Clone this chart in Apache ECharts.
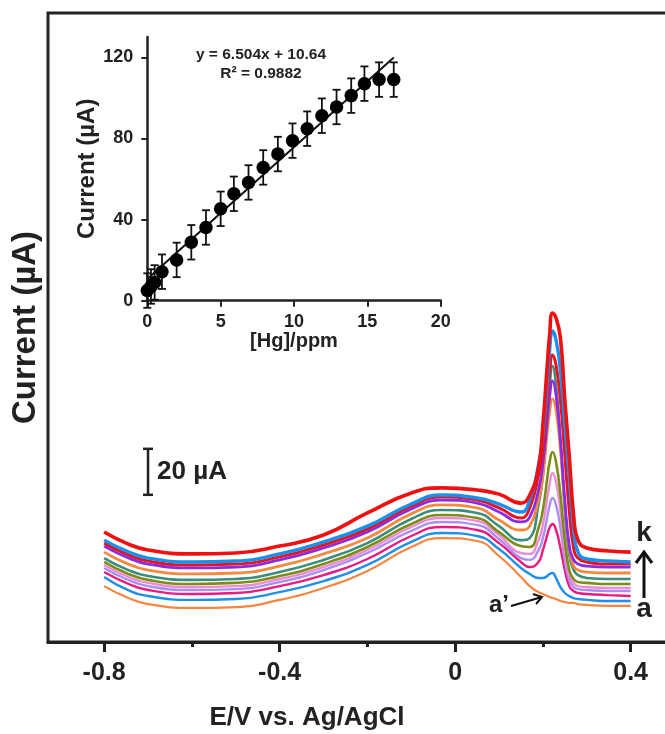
<!DOCTYPE html>
<html><head><meta charset="utf-8">
<script src="https://cdn.jsdelivr.net/npm/echarts@6/dist/echarts.min.js"></script>
<style>html,body{margin:0;padding:0;background:#fff}#c{width:665px;height:734px}</style>
</head><body><div id="c"></div>
<script>
// ---------- main voltammograms (E in V, I in µA) ----------
const potential = [-0.8,-0.75,-0.7,-0.6,-0.5,-0.4,-0.3,-0.2,-0.1,-0.03,0.05,0.1,0.15,0.17,0.19,0.2,0.21,0.215,0.222,0.23,0.24,0.25,0.26,0.27,0.28,0.3,0.35,0.4];
const curveNames = ["blank","a","b","c","d","e","f","g","h","i","j","k"];
const curveBlank = [24.3,19.6,16.5,14.8,15.2,18.3,23.5,30.9,41.3,45.2,43.9,37.4,28.3,24.3,21.7,20.9,20.0,19.6,19.1,18.7,17.8,17.4,17.0,17.0,16.5,16.1,15.7,15.7];
const curveA = [28.3,23.0,20.0,18.3,18.7,21.7,26.5,33.5,43.5,47.4,46.1,40.4,32.2,29.6,27.8,27.8,28.7,29.6,30.0,27.8,23.9,21.3,20.0,19.1,18.7,18.3,17.8,17.8];
const curveB = [30.4,25.7,22.6,20.9,21.3,24.3,29.1,36.1,46.1,50.0,48.7,43.0,34.8,32.6,34.8,40.0,46.5,49.6,51.3,48.7,40.9,31.3,24.3,22.2,21.3,20.9,20.4,20.0];
const curveC = [32.2,27.4,24.3,22.6,23.0,26.1,31.3,38.7,48.3,52.2,50.9,44.8,36.5,35.7,40.0,45.2,54.3,59.1,62.6,59.6,49.6,35.7,27.0,23.9,23.0,22.6,22.2,22.2];
const curveD = [33.5,28.7,25.7,23.9,24.3,27.4,32.6,40.0,50.0,53.9,52.6,46.5,38.7,38.3,44.3,50.9,62.6,68.3,73.5,69.6,57.4,40.0,29.1,25.7,24.3,23.9,23.5,23.5];
const curveE = [34.8,30.0,27.0,25.2,25.7,28.7,33.9,41.3,51.3,55.2,53.9,47.8,41.7,41.3,49.6,57.4,71.3,77.8,82.6,78.3,63.9,44.3,31.3,27.4,26.1,25.7,25.2,25.2];
const curveF = [36.5,31.7,28.7,27.0,27.4,30.4,35.7,43.0,53.5,57.4,56.1,50.4,44.3,45.2,59.6,72.6,98.7,110.4,120.0,111.7,87.8,57.4,37.8,31.3,29.1,27.8,27.4,27.4];
const curveG = [39.1,34.3,31.3,29.6,30.0,33.0,38.3,45.2,55.7,59.6,58.3,53.0,48.7,50.4,61.7,72.2,91.3,99.6,105.7,100.9,83.5,59.6,40.0,33.0,31.3,30.4,30.0,30.0];
const curveH = [41.7,37.0,33.9,32.2,32.6,35.7,40.9,47.8,57.8,61.7,60.4,56.5,52.2,54.3,66.1,77.8,96.5,106.1,113.5,107.4,87.8,61.7,42.2,35.7,33.9,33.0,32.6,32.6];
const curveI = [43.0,38.3,35.2,33.5,33.9,37.0,42.2,49.1,59.1,63.0,61.7,58.3,53.9,58.3,72.6,84.3,106.1,116.5,124.8,120.4,105.2,81.3,57.4,40.9,36.5,34.8,33.9,33.9];
const curveJ = [44.3,39.6,36.5,34.8,35.2,38.3,43.5,50.4,60.0,63.9,62.6,60.0,56.5,61.7,77.0,90.0,113.0,126.1,135.2,131.3,118.3,94.3,72.6,49.6,39.1,36.1,35.2,34.8];
const curveK = [47.8,43.0,40.0,38.3,38.7,41.7,46.5,56.1,64.8,67.0,66.1,64.3,60.4,63.9,75.7,94.3,120.4,132.6,143.0,140.9,132.2,105.2,81.3,55.2,44.3,40.9,39.6,39.1];
const curves = [curveBlank,curveA,curveB,curveC,curveD,curveE,curveF,curveG,curveH,curveI,curveJ,curveK];
const mainTickLabels = [-0.8,-0.4,0,0.4];
const mainMinorTicks = [-0.6,-0.2,0.2];
const scaleBar = [[-0.7,64],[-0.7,84]]; // 20 µA

// ---------- inset calibration ----------
const hgConc = [0,0.25,0.5,1,2,3,4,5,5.9,6.9,7.9,8.9,9.9,10.9,11.9,12.9,13.9,14.8,15.8,16.8];
const peakCurrent = [5,7,9,14.3,20.1,28.8,36.1,45.3,52.7,58.3,65.7,72.3,78.9,84.8,91.2,95.5,101.1,107,109,109];
const peakError = [8.5,8.5,8.5,8.5,8.5,8.5,8.5,8.5,8.5,8.5,8.5,8.5,8.5,8.5,8.5,8.5,8.5,8.5,8.5,8.5];
const fitLine = [[0,10.64],[16.8,119.9]];
const insetYTicks = [0,40,80,120];
const insetXTicks = [0,5,10,15,20];

// ---------- styles ----------
const colors = ['#f7853e','#1f8fe8','#ea1a7f','#a98ff0','#f08ad6','#7c8c14','#3a8c7e','#f5893c','#8a2be8','#e8141c','#1a90ee','#f01010'];
const widths = [2.2,2.4,2.4,2.4,2.4,2.6,2.6,2.8,2.8,3,3.4,3.6];
const FONT = 'Liberation Sans, Arial, sans-serif';
const INK = '#222';

const chart = echarts.init(document.getElementById('c'), null, {renderer:'canvas'});

const series = curves.map((c, k) => ({
  type:'line', name: curveNames[k], xAxisIndex:0, yAxisIndex:0,
  data: potential.map((e,i)=>[e,c[i]]),
  showSymbol:false, smooth:0.5, clip:false,
  lineStyle:{color:colors[k], width:widths[k]}, itemStyle:{color:colors[k]}, z:2+k
}));

series.push({
  type:'line', xAxisIndex:0, yAxisIndex:0, data:scaleBar, showSymbol:true,
  symbol:'rect', symbolSize:[10,2.5], itemStyle:{color:INK},
  lineStyle:{color:INK, width:2.5}, z:20, silent:true
});

series.push({
  type:'custom', xAxisIndex:1, yAxisIndex:1, clip:false, z:5,
  data: hgConc.map((x,i)=>[x, peakCurrent[i], peakError[i]]),
  renderItem:(params, api)=>{
    const x = api.value(0), y = api.value(1), e = api.value(2);
    const t = api.coord([x, y+e]), b = api.coord([x, y-e]);
    const w = 4, st = {stroke:'#111', lineWidth:1.8};
    return {type:'group', children:[
      {type:'line', shape:{x1:t[0],y1:t[1],x2:b[0],y2:b[1]}, style:st},
      {type:'line', shape:{x1:t[0]-w,y1:t[1],x2:t[0]+w,y2:t[1]}, style:st},
      {type:'line', shape:{x1:b[0]-w,y1:b[1],x2:b[0]+w,y2:b[1]}, style:st}
    ]};
  }
});
series.push({
  type:'line', xAxisIndex:1, yAxisIndex:1, data:fitLine, showSymbol:false,
  lineStyle:{color:'#111', width:2}, z:6, clip:false
});
series.push({
  type:'scatter', xAxisIndex:1, yAxisIndex:1, clip:false, z:7,
  data: hgConc.map((x,i)=>[x, peakCurrent[i]]),
  symbol:'circle', symbolSize:13.5, itemStyle:{color:'#000', opacity:1}
});

const option = {
  backgroundColor:'#fff',
  animation:false,
  grid:[
    {left:48, right:-9.5, top:13, bottom:92, outerBoundsMode:'none', containLabel:false,
     show:true, borderColor:INK, borderWidth:3, backgroundColor:'transparent'},
    {left:147.3, right:224.3, top:37, bottom:433.3, outerBoundsMode:'none', containLabel:false}
  ],
  xAxis:[
    {gridIndex:0, type:'value', min:-0.928, max:0.5, position:'bottom',
     axisLine:{show:true, lineStyle:{color:INK, width:3}},
     axisTick:{show:true, customValues:mainTickLabels, length:10, lineStyle:{color:INK, width:3}},
     axisLabel:{show:true, customValues:mainTickLabels, margin:19, color:INK, fontSize:25, fontWeight:'bold', fontFamily:FONT,
       formatter:v=> (Math.abs(v)<1e-9 ? '0' : String(v))},
     splitLine:{show:false}},
    {gridIndex:1, type:'value', min:0, max:20, interval:5, position:'bottom',
     name:'[Hg]/ppm', nameLocation:'middle', nameGap:31,
     nameTextStyle:{color:INK, fontSize:20, fontWeight:'bold', fontFamily:FONT},
     axisLine:{show:true, lineStyle:{color:INK, width:2.5}},
     axisTick:{show:true, customValues:insetXTicks, length:6, lineStyle:{color:INK, width:2}},
     axisLabel:{show:true, customValues:insetXTicks, margin:12, color:INK, fontSize:18, fontWeight:'bold', fontFamily:FONT},
     splitLine:{show:false}},
    {gridIndex:0, type:'value', min:-0.928, max:0.5, position:'bottom',
     axisLine:{show:false}, axisLabel:{show:false}, splitLine:{show:false},
     axisTick:{show:true, customValues:mainMinorTicks, length:5, lineStyle:{color:INK, width:3}}}
  ],
  yAxis:[
    {gridIndex:0, type:'value', min:0, max:273.5, position:'left',
     name:'Current (µA)', nameLocation:'middle', nameGap:6,
     nameTextStyle:{color:INK, fontSize:33, fontWeight:'bold', fontFamily:FONT},
     axisLine:{show:false}, axisTick:{show:false}, axisLabel:{show:false}, splitLine:{show:false}},
    {gridIndex:1, type:'value', min:0, max:130, position:'left',
     name:'Current (µA)', nameLocation:'middle', nameGap:44,
     nameTextStyle:{color:INK, fontSize:24, fontWeight:'bold', fontFamily:FONT},
     axisLine:{show:true, lineStyle:{color:INK, width:2.5}},
     axisTick:{show:true, customValues:insetYTicks, length:6, lineStyle:{color:INK, width:2}},
     axisLabel:{show:true, customValues:insetYTicks, margin:14, color:INK, fontSize:18, fontWeight:'bold', fontFamily:FONT},
     splitLine:{show:false}}
  ],
  series: series
};
chart.setOption(option);

// ---------- annotations ----------
const bold = (size)=>({fill:INK, fontSize:size, fontWeight:'bold', fontFamily:FONT});
const pBar = chart.convertToPixel({gridIndex:0}, [-0.7, 74]);
const graphics = [
  {type:'text', style:Object.assign({text:'E/V vs. Ag/AgCl', x:307, y:718, align:'center', verticalAlign:'middle'}, bold(26)), z:50},
  {type:'text', style:Object.assign({text:'20 µA', x:pBar[0]+9, y:pBar[1], align:'left', verticalAlign:'middle'}, bold(26)), z:50},
  {type:'text', style:Object.assign({text:'y = 6.504x + 10.64', x:261, y:55, align:'center', verticalAlign:'middle'}, bold(15.5)), z:50},
  {type:'text', style:Object.assign({text:'R² = 0.9882', x:261, y:74, align:'center', verticalAlign:'middle'}, bold(15.5)), z:50},
  {type:'text', style:Object.assign({text:'k', x:644, y:533, align:'center', verticalAlign:'middle'}, bold(28)), z:50},
  {type:'text', style:Object.assign({text:'a', x:644, y:609, align:'center', verticalAlign:'middle'}, bold(28)), z:50},
  {type:'line', shape:{x1:644, y1:598, x2:644, y2:553}, style:{stroke:'#111', lineWidth:3}, z:50},
  {type:'polyline', shape:{points:[[636,563],[644,552],[652,563]]}, style:{stroke:'#111', lineWidth:3, fill:null}, z:50},
  {type:'text', style:Object.assign({text:'a’', x:499, y:605, align:'center', verticalAlign:'middle'}, bold(24)), z:50},
  {type:'line', shape:{x1:511, y1:606, x2:542, y2:597}, style:{stroke:'#111', lineWidth:2}, z:50},
  {type:'polyline', shape:{points:[[533,594],[542,597],[536,604]]}, style:{stroke:'#111', lineWidth:2, fill:null}, z:50}
];
chart.setOption({graphic: graphics});
</script>
</body></html>
